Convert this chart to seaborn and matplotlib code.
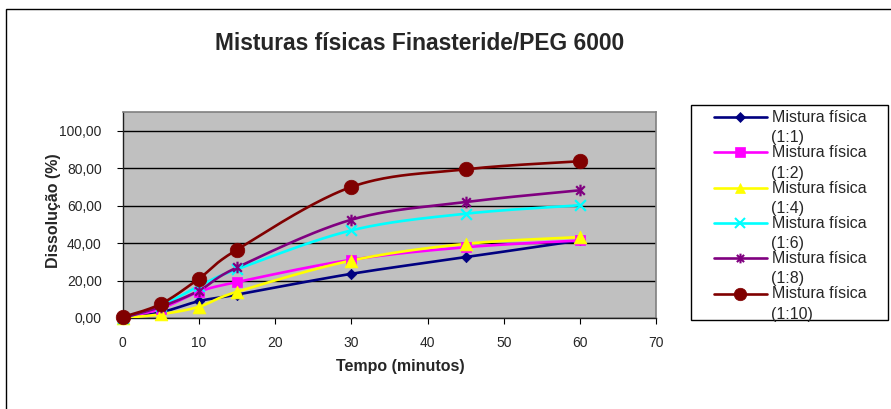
import numpy as np
import pandas as pd
import matplotlib
matplotlib.use("Agg")
import matplotlib.pyplot as plt
from matplotlib.lines import Line2D
from matplotlib.patches import Rectangle
from matplotlib.path import Path
from matplotlib.legend_handler import HandlerLine2D
from matplotlib.ticker import FuncFormatter
import seaborn as sns

# Dissolution data (% dissolved) for each physical mixture
tempo = [0, 5, 10, 15, 30, 45, 60]
series_names = ["Mistura física\n(1:1)", "Mistura física\n(1:2)", "Mistura física\n(1:4)",
                "Mistura física\n(1:6)", "Mistura física\n(1:8)", "Mistura física\n(1:10)"]
mix_1_1 = [0.0, 3.0, 9.0, 12.5, 23.6, 32.5, 41.4]
mix_1_2 = [0.0, 5.0, 14.0, 19.2, 31.1, 37.8, 41.4]
mix_1_4 = [0.0, 2.0, 6.0, 14.0, 30.7, 39.6, 43.2]
mix_1_6 = [0.0, 6.5, 17.0, 26.0, 46.8, 55.7, 60.2]
mix_1_8 = [0.0, 6.0, 14.6, 27.0, 52.5, 61.9, 68.2]
mix_1_10 = [0.5, 7.5, 21.0, 36.5, 70.0, 79.4, 83.7]
x_ticks = [0, 10, 20, 30, 40, 50, 60, 70]
y_ticks = [0, 20, 40, 60, 80, 100]

values = [mix_1_1, mix_1_2, mix_1_4, mix_1_6, mix_1_8, mix_1_10]
colors = ["#000080", "#FF00FF", "#FFFF00", "#00FFFF", "#800080", "#800000"]

# Asterisk marker: an "x" crossed by a vertical bar
star_path = Path([(-1, -1), (1, 1), (-1, 1), (1, -1), (0, -1.35), (0, 1.35)],
                 [Path.MOVETO, Path.LINETO, Path.MOVETO, Path.LINETO, Path.MOVETO, Path.LINETO])
markers = ["D", "s", "^", "x", star_path, "o"]
marker_sizes = [28, 55, 85, 60, 70, 110]
legend_msizes = [5, 7, 7, 7, 7, 9]
line_markers = [False, False, False, True, True, False]


def smooth_curve(xs, ys, n=40):
    """Cubic Bezier smoothing through every point (Catmull-Rom style tangents)."""
    p = np.column_stack([xs, ys]).astype(float)
    ext = np.vstack([p[0], p, p[-1]])
    out = []
    t = np.linspace(0, 1, n)[:, None]
    for i in range(len(p) - 1):
        p0, p1 = ext[i + 1], ext[i + 2]
        c1 = p0 + (ext[i + 2] - ext[i]) / 6.0
        c2 = p1 - (ext[i + 3] - ext[i + 1]) / 6.0
        seg = ((1 - t) ** 3) * p0 + 3 * ((1 - t) ** 2) * t * c1 + 3 * (1 - t) * t ** 2 * c2 + t ** 3 * p1
        out.append(seg if i == 0 else seg[1:])
    s = np.vstack(out)
    return s[:, 0], s[:, 1]


class FirstLineHandler(HandlerLine2D):
    """Legend handle aligned with the first line of a two-line label."""
    def create_artists(self, legend, orig_handle, xdescent, ydescent, width, height, fontsize, trans):
        artists = super().create_artists(legend, orig_handle, xdescent, ydescent,
                                         width, height, fontsize, trans)
        for a in artists:
            a.set_ydata(np.asarray(a.get_ydata()) + 0.68 * fontsize)
        return artists


sns.set_style("white")
plt.rcParams["font.family"] = ["Liberation Sans", "DejaVu Sans"]

fig = plt.figure(figsize=(8.91, 4.09), dpi=100)
ax = fig.add_axes([0.1377, 0.2225, 0.5991, 0.5037])
ax.set_facecolor("#C0C0C0")

for name, vals, col, mk, ms, is_line in zip(series_names, values, colors, markers,
                                            marker_sizes, line_markers):
    sx, sy = smooth_curve(tempo, vals)
    curve = pd.DataFrame({"Tempo": sx, "Dissolucao": sy})
    sns.lineplot(data=curve, x="Tempo", y="Dissolucao", color=col, lw=1.9,
                 sort=False, estimator=None, ax=ax, zorder=3)
    pts = pd.DataFrame({"Tempo": tempo, "Dissolucao": vals})
    sns.scatterplot(data=pts, x="Tempo", y="Dissolucao", marker=mk, s=ms,
                    color=col, edgecolor=col, linewidth=1.6 if is_line else 0.5,
                    ax=ax, zorder=4, clip_on=False)

ax.set_xlim(0, 70)
ax.set_ylim(0, 110)
ax.set_xticks(x_ticks)
ax.set_yticks(y_ticks)
ax.yaxis.set_major_formatter(FuncFormatter(lambda v, _: f"{v:.2f}".replace(".", ",")))
ax.grid(axis="y", color="black", lw=1.0)
ax.grid(axis="x", visible=False)
ax.set_axisbelow(True)

for side in ("top", "right"):
    ax.spines[side].set_color("#808080")
    ax.spines[side].set_linewidth(1.2)
for side in ("left", "bottom"):
    ax.spines[side].set_color("#202020")
    ax.spines[side].set_linewidth(1.0)

ax.tick_params(axis="both", direction="out", length=4, width=0.8, color="black",
               labelsize=10, bottom=True, left=True)
ax.tick_params(axis="x", pad=9)
ax.tick_params(axis="y", pad=11)

ax.set_xlabel("Tempo (minutos)", fontsize=11.5, fontweight="bold")
ax.set_ylabel("Dissolução (%)", fontsize=11.5, fontweight="bold")
ax.xaxis.set_label_coords(0.52, -0.2)
ax.yaxis.set_label_coords(-0.115, 0.52)

fig.text(420 / 891, 1 - 44 / 409, "Misturas físicas Finasteride/PEG 6000",
         ha="center", va="center", fontsize=16.4, fontweight="bold")

# Legend box
fig.patches.append(Rectangle((691 / 891, 1 - 320 / 409), 197 / 891, 215 / 409,
                             transform=fig.transFigure, fill=False,
                             edgecolor="black", lw=1.0))

handles = [Line2D([0], [0], color=c, lw=1.9, marker=m, markersize=s,
                  markerfacecolor=c, markeredgecolor=c,
                  markeredgewidth=1.5 if il else 0.5)
           for c, m, s, il in zip(colors, markers, legend_msizes, line_markers)]
leg = fig.legend(handles, series_names, loc="upper left",
                 bbox_to_anchor=(714 / 891, 1 - 110 / 409), bbox_transform=fig.transFigure,
                 fontsize=11.5, handlelength=3.3, handletextpad=0.3, labelspacing=0.0,
                 borderpad=0, borderaxespad=0, frameon=False,
                 handler_map={Line2D: FirstLineHandler()})
for txt in leg.get_texts():
    txt.set_linespacing(1.44)

# Outer chart border
fig.patches.append(Rectangle((6 / 891, -0.1), 1.0, 1 - 9 / 409 + 0.1,
                             transform=fig.transFigure, fill=False,
                             edgecolor="black", lw=1.0, clip_on=False))

fig.savefig("out.png", dpi=100)
